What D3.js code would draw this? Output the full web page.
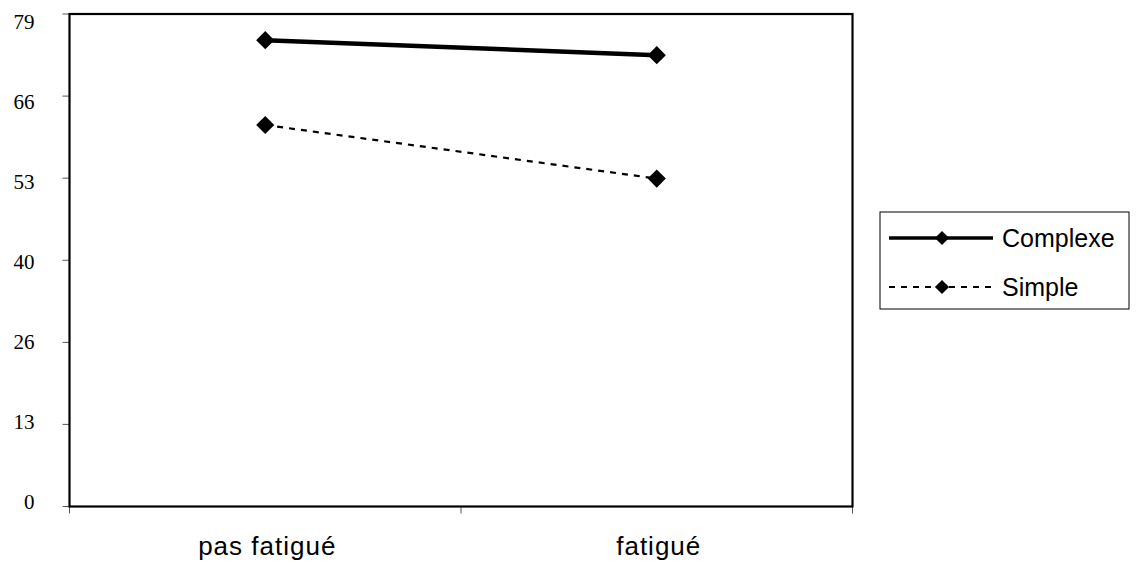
<!DOCTYPE html>
<html>
<head>
<meta charset="utf-8">
<script src="https://cdn.jsdelivr.net/npm/d3@7"></script>
<style>
  html, body { margin: 0; padding: 0; background: #fff; }
  svg { display: block; }
</style>
</head>
<body>
<div id="chart"></div>
<script>
// Data
const categories = ["pas fatigué", "fatigué"];
const seriesNames = ["Complexe", "Simple"];
const complexeValues = [74.8, 72.4];
const simpleValues = [61.2, 52.6];
const yTickValues = [0, 13.17, 26.33, 39.5, 52.67, 65.83, 79];
const yTickLabels = ["0", "13", "26", "40", "53", "66", "79"];

const series = [
    { name: seriesNames[0], values: complexeValues, width: 4.5, dash: null },
    { name: seriesNames[1], values: simpleValues, width: 2.2, dash: "6,6" }
];

// Dimensions
const W = 1138, H = 567;
const margin = { top: 14, left: 69.5 };
const width = 852.5 - margin.left;
const height = 506.5 - margin.top;

const svg = d3.select("#chart")
    .append("svg")
    .attr("width", W)
    .attr("height", H);

const g = svg.append("g")
    .attr("transform", `translate(${margin.left},${margin.top})`);

// Scales
const x = d3.scaleBand().domain(categories).range([0, width]);
const y = d3.scaleLinear().domain([0, 79]).range([height, 0]);
// labels sit slightly off their ticks in the original
const yLabel = d3.scaleLinear().domain([0, 79]).range([height - 4.5, 8]);

// Y tick marks
g.selectAll(".ytick")
    .data(yTickValues)
    .enter()
    .append("line")
    .attr("x1", -7).attr("x2", 0)
    .attr("y1", d => y(d)).attr("y2", d => y(d))
    .attr("stroke", "#555")
    .attr("stroke-width", 1);

g.selectAll(".ylabel")
    .data(yTickValues)
    .enter()
    .append("text")
    .attr("x", -35)
    .attr("y", d => yLabel(d))
    .attr("dy", "0.35em")
    .attr("text-anchor", "end")
    .style("font-family", "'Liberation Serif', 'Times New Roman', serif")
    .style("font-size", "21px")
    .text((d, i) => yTickLabels[i]);

// X tick marks at band edges
const xEdges = [0, ...categories.map(c => x(c) + x.bandwidth())];
g.selectAll(".xtick")
    .data(xEdges)
    .enter()
    .append("line")
    .attr("x1", d => d).attr("x2", d => d)
    .attr("y1", height).attr("y2", height + 7)
    .attr("stroke", "#555")
    .attr("stroke-width", 1);

g.selectAll(".xlabel")
    .data(categories)
    .enter()
    .append("text")
    .attr("x", d => x(d) + x.bandwidth() / 2 + 2)
    .attr("y", 555 - margin.top)
    .attr("text-anchor", "middle")
    .style("font-family", "'Liberation Sans', Arial, sans-serif")
    .style("font-size", "26px")
    .style("letter-spacing", "1px")
    .text(d => d);

// Plot frame
g.append("rect")
    .attr("width", width)
    .attr("height", height)
    .attr("fill", "none")
    .attr("stroke", "#000")
    .attr("stroke-width", 2.2);

// Lines
const line = d3.line()
    .x((d, i) => x(categories[i]) + x.bandwidth() / 2)
    .y(d => y(d));

series.forEach(s => {
    g.append("path")
        .datum(s.values)
        .attr("d", line)
        .attr("fill", "none")
        .attr("stroke", "#000")
        .attr("stroke-width", s.width)
        .attr("stroke-dasharray", s.dash);

    g.selectAll(null)
        .data(s.values)
        .enter()
        .append("path")
        .attr("d", d3.symbol().type(d3.symbolSquare).size(165))
        .attr("transform", (d, i) => `translate(${x(categories[i]) + x.bandwidth() / 2},${y(d)}) rotate(45)`)
        .attr("fill", "#000");
});

// Legend
const legend = svg.append("g").attr("transform", "translate(880,212)");
legend.append("rect")
    .attr("width", 249)
    .attr("height", 97)
    .attr("fill", "#fff")
    .attr("stroke", "#000")
    .attr("stroke-width", 1);

series.forEach((s, i) => {
    const ry = 26 + i * 49;
    legend.append("line")
        .attr("x1", 9).attr("x2", 113)
        .attr("y1", ry).attr("y2", ry)
        .attr("stroke", "#000")
        .attr("stroke-width", i === 0 ? 3.5 : 2)
        .attr("stroke-dasharray", s.dash);
    legend.append("path")
        .attr("d", d3.symbol().type(d3.symbolSquare).size(100))
        .attr("transform", `translate(62,${ry}) rotate(45)`)
        .attr("fill", "#000");
    legend.append("text")
        .attr("x", 122)
        .attr("y", ry + 9)
        .style("font-family", "'Liberation Sans', Arial, sans-serif")
        .style("font-size", "25px")
        .text(s.name);
});
</script>
</body>
</html>
